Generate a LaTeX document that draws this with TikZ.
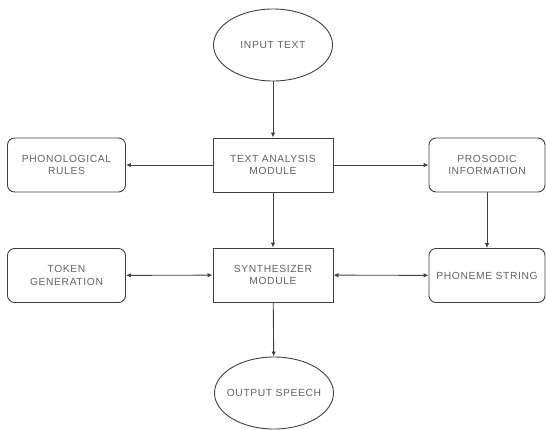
\documentclass[tikz,border=0pt]{standalone}
\usepackage{fontspec}
\setmainfont{Liberation Sans}
\newfontfamily\lblfont[LetterSpace=6]{Liberation Sans}
\usetikzlibrary{arrows.meta,shapes.geometric}
\tikzset{
	blk/.style={draw=black!75, line width=0.9pt, minimum width=120pt, minimum height=54pt, align=center, text=black!62, font=\lblfont\fontsize{10.3}{12.5}\selectfont, inner sep=1pt},
	rblk/.style={blk, rounded corners=7pt, minimum width=118pt},
	oval/.style={blk, ellipse, inner xsep=-12pt, minimum width=119pt, minimum height=72pt},
	link/.style={draw=black!75, line width=0.9pt, -{Latex[length=5pt,width=4.5pt]}},
	dlink/.style={link, {Latex[length=5pt,width=4.5pt]}-{Latex[length=5pt,width=4.5pt]}}
}
\begin{document}
\begin{tikzpicture}[x=1pt, y=-1pt]
	\useasboundingbox (0,0) rectangle (546,429);
	\draw (273, 45) node[oval] (in) {INPUT TEXT};
	\draw (273,165) node[blk] (tam) {TEXT ANALYSIS\\MODULE};
	\draw (273,275) node[blk] (syn) {SYNTHESIZER\\MODULE};
	\draw (274,393) node[oval] (out) {OUTPUT SPEECH};
	
	\draw ( 66.5,165) node[rblk] (phr) {PHONOLOGICAL\\RULES};
	\draw ( 66.5,275.5) node[rblk] (tok) {TOKEN\\GENERATION};
	\draw (487,165) node[rblk, minimum width=116pt] (pro) {PROSODIC\\INFORMATION};
	\draw (487,275.5) node[rblk, minimum width=116pt] (pho) {PHONEME STRING};
	
	\draw[link] (in) -- (tam);
	\draw[link] (tam) -- (phr);
	\draw[link] (tam) -- (pro);
	\draw[link] (tam) -- (syn);
	\draw[link] (pro) -- (pho);
	\draw[dlink] (tok) -- (syn);
	\draw[dlink] (syn) -- (pho);
	\draw[link] (syn) -- (out);
\end{tikzpicture}
\end{document}
